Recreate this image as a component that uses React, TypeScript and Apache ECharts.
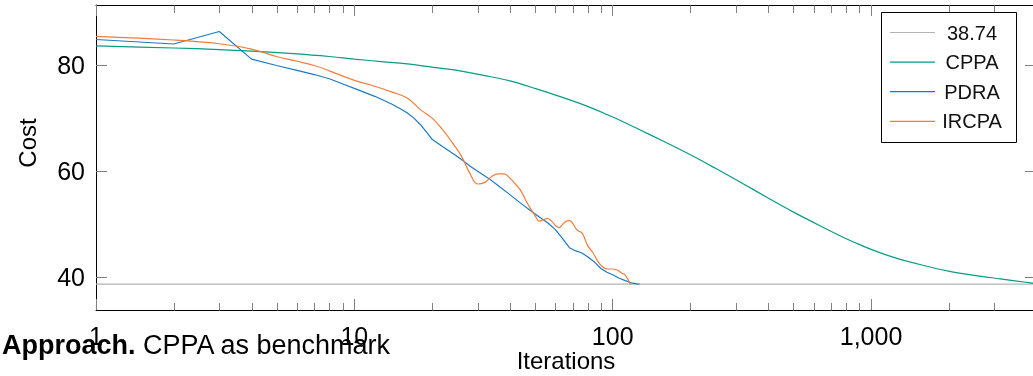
import React, { useEffect, useRef } from "react";
import * as echarts from "echarts";

// ---------- data ----------
const xRange = [1, 4350];
const yRange = [33.88, 91.29];
const yTicks = [40, 60, 80];
const minorXTicks = [2, 3, 4, 5, 6, 7, 8, 9, 20, 30, 40, 50, 60, 70, 80, 90, 200, 300, 400, 500, 600, 700, 800, 900, 2000, 3000];

const baselineValue = 38.74;
const baselineLabel = "38.74";

const cppaIter = [1, 2, 3, 4, 6, 8, 10, 13, 16, 20, 25, 32, 40, 50, 63, 79, 100, 126, 158, 200, 251, 316, 398, 501, 631, 794, 1000, 1259, 1585, 1995, 2512, 3162, 3981, 4350];
const cppaCost = [83.6, 83.2, 82.9, 82.6, 82.1, 81.6, 81.1, 80.6, 80.2, 79.6, 79.0, 78.0, 77.0, 75.6, 74.0, 72.3, 70.2, 67.9, 65.6, 63.1, 60.5, 57.8, 55.0, 52.3, 49.8, 47.4, 45.3, 43.6, 42.3, 41.2, 40.4, 39.75, 39.1, 38.85];

const pdraIter = [1, 2, 3, 4, 5, 6, 7, 8, 10, 12, 14, 15, 16, 17, 18, 19, 20, 22, 24, 26, 28, 30, 33, 36, 40, 44, 48, 52, 56, 60, 64, 68, 72, 76, 80, 85, 90, 95, 100, 106, 112, 118, 124, 127];
const pdraCost = [84.8, 83.95, 86.3, 81.1, 79.9, 79.0, 78.2, 77.4, 75.6, 74.1, 72.6, 71.8, 71.0, 70.0, 68.8, 67.4, 66.0, 64.6, 63.4, 62.2, 61.0, 60.0, 58.7, 57.3, 55.6, 54.0, 52.6, 51.4, 50.3, 49.0, 47.3, 45.6, 45.0, 44.6, 43.9, 42.9, 41.7, 41.0, 40.5, 39.85, 39.4, 39.0, 38.8, 38.74];

const ircpaIter = [1, 2, 3, 4, 5, 6, 7, 8, 10, 12, 14, 16, 18, 20, 22, 24, 26, 28, 30, 32, 34, 36, 38, 40, 42, 44, 46, 48, 50, 52, 54, 56, 58, 60, 62, 64, 66, 68, 70, 72, 74, 76, 78, 80, 84, 88, 92, 96, 100, 104, 108, 112, 117];
const ircpaCost = [85.4, 84.7, 84.0, 83.0, 81.6, 80.7, 79.9, 78.9, 77.1, 76.0, 74.9, 73.8, 71.6, 70.0, 67.8, 65.3, 62.8, 59.6, 57.6, 57.9, 59.0, 59.5, 59.5, 58.7, 57.6, 56.4, 54.6, 53.0, 51.7, 50.6, 50.9, 51.1, 50.6, 49.8, 49.4, 50.0, 50.6, 50.7, 50.2, 49.2, 48.7, 48.4, 47.3, 46.0, 44.6, 42.9, 41.9, 41.6, 41.6, 41.4, 40.9, 40.4, 38.74];

const seriesNames = ["CPPA", "PDRA", "IRCPA"];
const titleText = "Computation cost, (a) Total cost vs. iterations, log";
const xName = "Iterations";
const yName = "Cost";
const captionBold = "Approach.";
const captionRest = " CPPA as benchmark";

// ---------- styles ----------
const FONT = "Liberation Sans";
const GRAY = "#808080";
const COLORS = { base: "#b4b4b4", cppa: "#069c86", pdra: "#1b7ac4", ircpa: "#f27c38" };

const zip = (xs: number[], ys: number[]) => xs.map((x, i) => [x, ys[i]]);

export default function App() {
  const ref = useRef<HTMLDivElement>(null);

  useEffect(() => {
    if (!ref.current) return;
    const chart = echarts.init(ref.current, null, { renderer: "svg" });

    const lineSeries = (name: string, xs: number[], ys: number[], color: string, smooth: any, z = 3) => ({
      type: "line",
      name,
      data: zip(xs, ys),
      showSymbol: false,
      symbol: "none",
      smooth,
      xAxisIndex: 0,
      yAxisIndex: 0,
      lineStyle: { color, width: 1.2 },
      itemStyle: { color },
      z,
    });

    const axisCommonX = {
      type: "log",
      logBase: 10,
      min: xRange[0],
      max: xRange[1],
      splitLine: { show: false },
      axisLine: { show: true, onZero: false, lineStyle: { color: "#000", width: 1 } },
      axisTick: { show: true, inside: true, length: 11, lineStyle: { color: GRAY, width: 1 } },
    };
    const axisCommonY = {
      type: "value",
      min: yRange[0],
      max: yRange[1],
      splitLine: { show: false },
      axisLine: { show: true, onZero: false, lineStyle: { color: "#000", width: 1 } },
      axisTick: { show: true, inside: true, length: 11, customValues: yTicks, lineStyle: { color: GRAY, width: 1 } },
    };

    const legendItems = [
      { label: baselineLabel, color: COLORS.base },
      { label: seriesNames[0], color: COLORS.cppa },
      { label: seriesNames[1], color: COLORS.pdra },
      { label: seriesNames[2], color: COLORS.ircpa },
    ];

    const legendGraphics: any[] = [
      {
        type: "rect",
        shape: { x: 881.5, y: 12.5, width: 135, height: 130 },
        style: { fill: "#fff", stroke: "#000", lineWidth: 1 },
        z: 100,
      },
    ];
    legendItems.forEach((it, i) => {
      const y = 32.5 + i * 29.6;
      legendGraphics.push({
        type: "line",
        shape: { x1: 890, y1: y, x2: 935, y2: y },
        style: { stroke: it.color, lineWidth: 1.2 },
        z: 101,
      });
      legendGraphics.push({
        type: "text",
        x: 972,
        y,
        style: {
          text: it.label,
          fontFamily: FONT,
          fontSize: 20,
          fill: "#111",
          align: "center",
          textAlign: "center",
          verticalAlign: "middle",
          textVerticalAlign: "middle",
        },
        z: 101,
      });
    });

    const option: any = {
      animation: false,
      grid: { left: 96, right: -3, top: 5, bottom: 66, containLabel: false, outerBoundsMode: "none" },
      xAxis: [
        {
          ...axisCommonX,
          position: "bottom",
          name: xName,
          nameLocation: "middle",
          nameGap: 38,
          nameMoveOverlap: false,
          nameTextStyle: { fontFamily: FONT, fontSize: 24, color: "#000" },
          axisLabel: {
            show: true,
            margin: 13,
            fontFamily: FONT,
            fontSize: 25,
            color: "#000",
            showMaxLabel: false,
            formatter: (v: number) => Math.round(v).toLocaleString("en-US"),
          },
        },
        {
          ...axisCommonX,
          position: "top",
          axisLabel: { show: false },
        },
      ],
      yAxis: [
        {
          ...axisCommonY,
          position: "left",
          axisLabel: { show: true, customValues: yTicks, margin: 11, fontFamily: FONT, fontSize: 25, color: "#000" },
        },
        {
          ...axisCommonY,
          position: "right",
          axisLabel: { show: false },
        },
      ],
      series: [
        lineSeries(baselineLabel, xRange, [baselineValue, baselineValue], COLORS.base, false, 2),
        lineSeries(seriesNames[0], cppaIter, cppaCost, COLORS.cppa, 0.3),
        lineSeries(seriesNames[1], pdraIter, pdraCost, COLORS.pdra, false),
        lineSeries(seriesNames[2], ircpaIter, ircpaCost, COLORS.ircpa, 0.4),
        {
          type: "custom",
          xAxisIndex: 0,
          yAxisIndex: 0,
          data: minorXTicks.map((v) => [v, yTicks[1]]),
          encode: { x: 0, y: 1 },
          silent: true,
          z: 4,
          renderItem: (params: any, api: any) => {
            const px = Math.round(api.coord([api.value(0), api.value(1)])[0]) + 0.5;
            const cs = params.coordSys;
            const top = Math.round(cs.y) + 0.5;
            const bot = Math.round(cs.y + cs.height) + 0.5;
            const st = { stroke: GRAY, lineWidth: 1 };
            return {
              type: "group",
              children: [
                { type: "line", shape: { x1: px, y1: bot, x2: px, y2: bot - 7.5 }, style: st },
                { type: "line", shape: { x1: px, y1: top, x2: px, y2: top + 7.5 }, style: st },
              ],
            };
          },
        },
      ],
      graphic: [
        {
          type: "text",
          x: 186,
          y: -15,
          z: 0,
          style: {
            text: titleText,
            fontFamily: FONT,
            fontWeight: "bold",
            fontSize: 26,
            fill: "#1b4f9c",
            align: "left",
            textAlign: "left",
            verticalAlign: "middle",
            textVerticalAlign: "middle",
          },
        },
        {
          type: "text",
          x: 27,
          y: 143,
          rotation: Math.PI / 2,
          style: {
            text: yName,
            fontFamily: FONT,
            fontSize: 24,
            fill: "#000",
            align: "center",
            textAlign: "center",
            verticalAlign: "middle",
            textVerticalAlign: "middle",
          },
        },
        {
          type: "text",
          x: 2,
          y: 345,
          style: {
            text: "{b|" + captionBold + "}" + captionRest,
            fontFamily: FONT,
            fontSize: 27,
            fill: "#000",
            align: "left",
            textAlign: "left",
            verticalAlign: "middle",
            textVerticalAlign: "middle",
            rich: { b: { fontFamily: FONT, fontSize: 27, fontWeight: "bold", fill: "#000" } },
          },
        },
        ...legendGraphics,
      ],
    };

    chart.setOption(option);
    return () => chart.dispose();
  }, []);

  return <div ref={ref} style={{ position: "fixed", left: 0, top: 0, width: 1033, height: 376 }} />;
}
